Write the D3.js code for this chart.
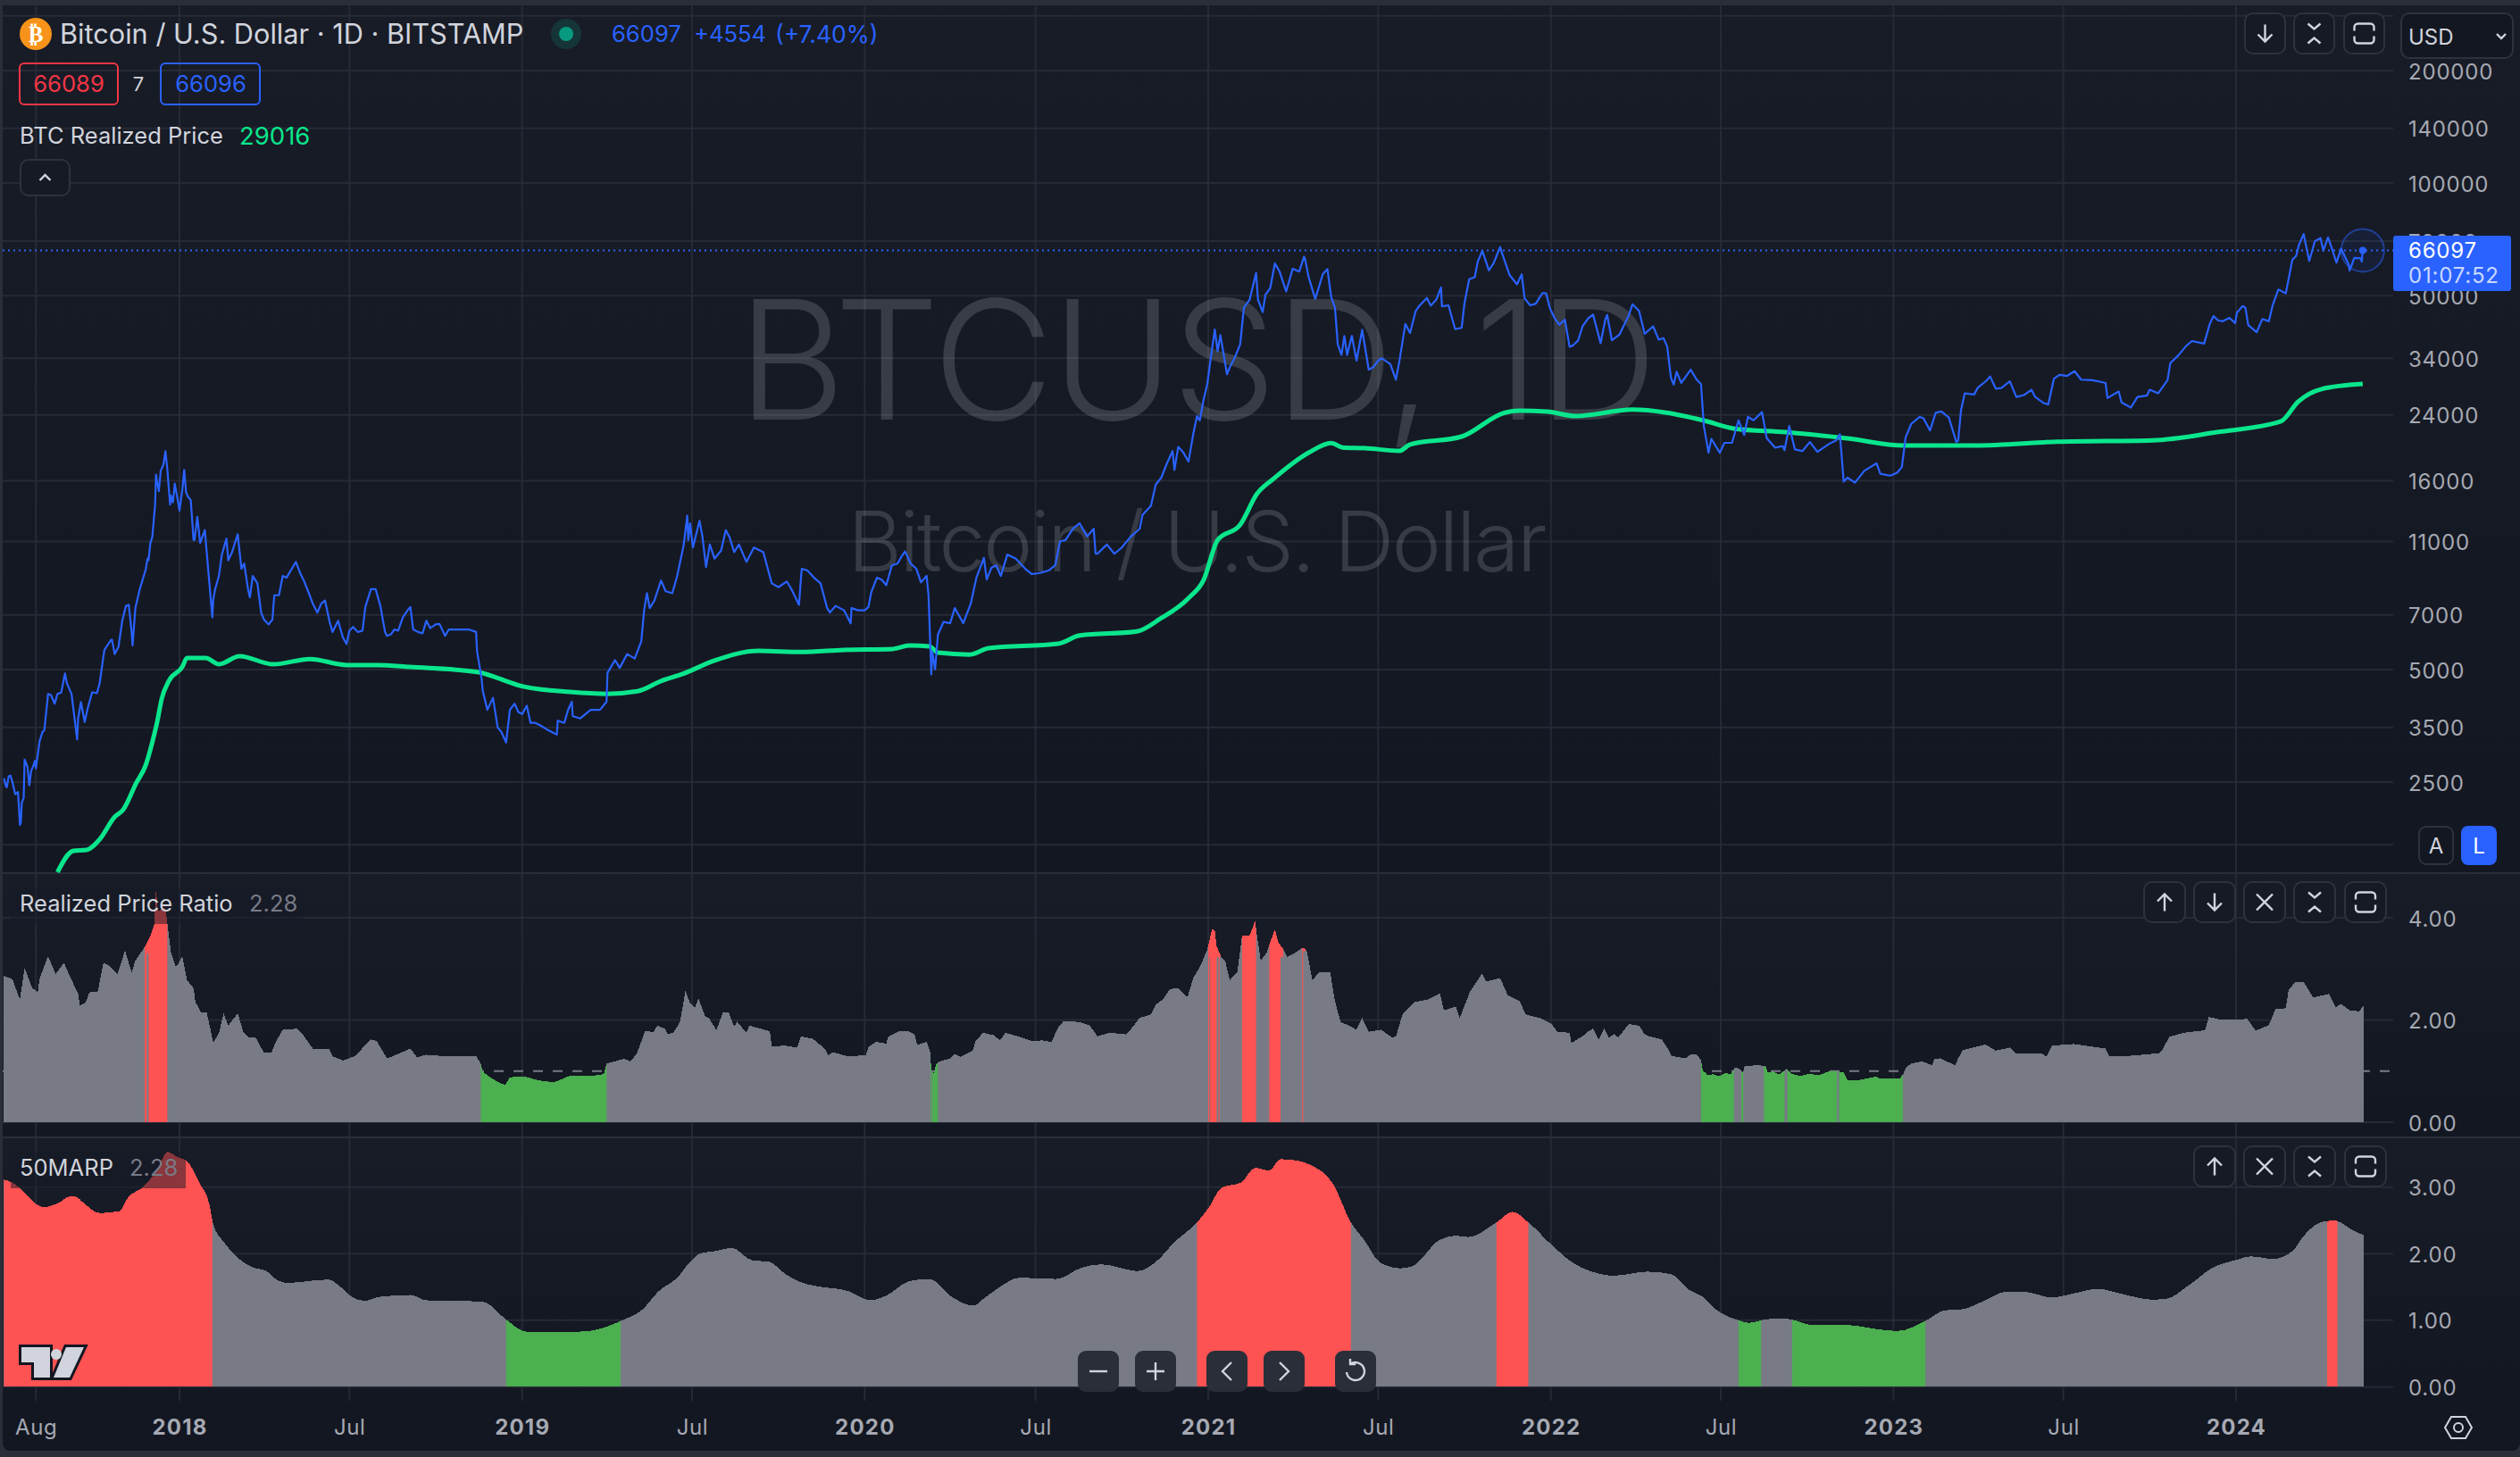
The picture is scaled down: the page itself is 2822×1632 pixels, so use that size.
<!DOCTYPE html>
<html>
<head>
<meta charset="utf-8">
<script src="https://cdn.jsdelivr.net/npm/d3@7"></script>
<style>
html, body { margin: 0; padding: 0; background: #2a2e39; }
svg { display: block; font-family: Inter, "Noto Sans", sans-serif; }
</style>
</head>
<body>
<div id="chart"></div>
<script>
// values
const priceSeries = [
["2017-06-28",2560],["2017-06-30",2440],["2017-07-01",2420],["2017-07-03",2590],["2017-07-05",2600],["2017-07-07",2500],["2017-07-10",2320],["2017-07-13",2350],["2017-07-15",1920],["2017-07-16",1950],["2017-07-17",2200],["2017-07-19",2270],["2017-07-20",2870],["2017-07-23",2750],["2017-07-25",2450],["2017-07-27",2680],["2017-07-29",2750],["2017-07-31",2850],["2017-08-01",2720],["2017-08-05",3220],["2017-08-08",3400],["2017-08-10",3440],["2017-08-14",4300],["2017-08-17",4280],["2017-08-21",4050],["2017-08-24",4300],["2017-08-28",4340],["2017-09-01",4880],["2017-09-03",4600],["2017-09-08",4300],["2017-09-14",3250],["2017-09-15",3700],["2017-09-18",4090],["2017-09-22",3620],["2017-09-25",3920],["2017-09-30",4350],["2017-10-05",4320],["2017-10-08",4600],["2017-10-12",5430],["2017-10-13",5640],["2017-10-20",6000],["2017-10-21",6010],["2017-10-24",5500],["2017-10-28",5750],["2017-11-01",6750],["2017-11-05",7400],["2017-11-08",7450],["2017-11-11",6300],["2017-11-12",5800],["2017-11-15",7300],["2017-11-20",8250],["2017-11-26",9250],["2017-11-28",9900],["2017-11-29",9800],["2017-12-01",10900],["2017-12-03",11300],["2017-12-06",13800],["2017-12-07",16600],["2017-12-08",16000],["2017-12-10",15000],["2017-12-12",17000],["2017-12-15",17700],["2017-12-17",19190],["2017-12-19",17200],["2017-12-22",13800],["2017-12-23",14600],["2017-12-25",14000],["2017-12-27",15700],["2017-12-31",13800],
["2018-01-01",13300],["2018-01-04",15100],["2018-01-06",17100],["2018-01-08",14900],["2018-01-10",14500],["2018-01-13",14200],["2018-01-16",11100],["2018-01-17",11100],["2018-01-20",12800],["2018-01-23",10900],["2018-01-28",11800],["2018-02-01",9000],["2018-02-05",6900],["2018-02-06",7700],["2018-02-08",8200],["2018-02-12",8900],["2018-02-15",10100],["2018-02-20",11200],["2018-02-22",9800],["2018-02-26",10300],["2018-03-04",11500],["2018-03-08",9300],["2018-03-11",9600],["2018-03-15",8200],["2018-03-17",7800],["2018-03-20",8900],["2018-03-25",8500],["2018-03-29",7100],["2018-04-01",6800],["2018-04-06",6600],["2018-04-10",6800],["2018-04-12",7900],["2018-04-17",7900],["2018-04-21",8900],["2018-04-25",8800],["2018-04-30",9240],["2018-05-05",9700],["2018-05-10",9000],["2018-05-13",8700],["2018-05-18",8100],["2018-05-23",7500],["2018-05-28",7100],["2018-06-01",7500],["2018-06-05",7650],["2018-06-10",6700],["2018-06-13",6300],["2018-06-19",6750],["2018-06-24",6100],["2018-06-28",5850],["2018-07-01",6350],["2018-07-05",6500],["2018-07-10",6300],["2018-07-15",6350],["2018-07-18",7350],["2018-07-24",8200],["2018-07-26",8200],["2018-07-29",8200],["2018-08-03",7400],["2018-08-08",6300],["2018-08-10",6150],["2018-08-14",6200],["2018-08-18",6400],["2018-08-22",6350],["2018-08-27",6900],["2018-09-01",7200],["2018-09-04",7350],["2018-09-07",6400],["2018-09-12",6300],["2018-09-17",6250],["2018-09-21",6750],["2018-09-25",6450],["2018-10-01",6600],["2018-10-05",6620],["2018-10-11",6150],["2018-10-15",6400],["2018-10-25",6400],["2018-11-05",6400],["2018-11-13",6300],["2018-11-14",5600],["2018-11-19",4700],["2018-11-20",4400],["2018-11-25",3900],["2018-12-01",4200],["2018-12-06",3500],["2018-12-10",3400],["2018-12-15",3190],["2018-12-19",3900],["2018-12-24",4050],["2018-12-28",3850],
["2019-01-01",3800],["2019-01-06",4000],["2019-01-10",3600],["2019-01-15",3600],["2019-01-20",3550],["2019-01-28",3450],["2019-02-07",3350],["2019-02-08",3650],["2019-02-15",3600],["2019-02-19",3900],["2019-02-23",4100],["2019-02-24",3750],["2019-03-04",3700],["2019-03-15",3900],["2019-03-25",3900],["2019-04-01",4100],["2019-04-02",4900],["2019-04-10",5300],["2019-04-15",5050],["2019-04-23",5500],["2019-05-01",5350],["2019-05-08",5950],["2019-05-11",7200],["2019-05-14",8000],["2019-05-17",7300],["2019-05-22",7650],["2019-05-29",8650],["2019-06-03",8100],["2019-06-10",8000],["2019-06-15",8850],["2019-06-22",10700],["2019-06-26",12900],["2019-06-27",11100],["2019-06-29",12300],["2019-07-02",10600],["2019-07-09",12500],["2019-07-12",11400],["2019-07-16",9400],["2019-07-20",10800],["2019-07-25",9900],["2019-08-01",10400],["2019-08-06",11800],["2019-08-10",11300],["2019-08-15",10300],["2019-08-20",10800],["2019-08-28",9700],["2019-09-05",10600],["2019-09-15",10300],["2019-09-24",8500],["2019-10-01",8300],["2019-10-10",8600],["2019-10-15",8200],["2019-10-23",7450],["2019-10-25",8700],["2019-10-26",9300],["2019-11-01",9200],["2019-11-08",8800],["2019-11-15",8500],["2019-11-22",7300],["2019-11-25",7100],["2019-12-01",7400],["2019-12-10",7200],["2019-12-17",6640],["2019-12-18",7300],["2019-12-25",7200],
["2020-01-01",7200],["2020-01-05",7350],["2020-01-08",8050],["2020-01-14",8800],["2020-01-19",8700],["2020-01-24",8400],["2020-01-30",9500],["2020-02-05",9600],["2020-02-10",10100],["2020-02-13",10350],["2020-02-19",9600],["2020-02-25",9300],["2020-03-01",8550],["2020-03-07",8900],["2020-03-09",7900],["2020-03-12",4850],["2020-03-13",5580],["2020-03-16",5000],["2020-03-19",6200],["2020-03-25",6700],["2020-04-01",6650],["2020-04-06",7300],["2020-04-15",6650],["2020-04-23",7500],["2020-04-29",8800],["2020-05-07",9950],["2020-05-10",8700],["2020-05-15",9350],["2020-05-20",9500],["2020-05-25",8900],["2020-06-01",10150],["2020-06-10",9900],["2020-06-20",9300],["2020-06-27",9000],["2020-07-05",9050],["2020-07-15",9200],["2020-07-22",9500],["2020-07-27",11000],["2020-08-02",11100],["2020-08-10",11900],["2020-08-17",12300],["2020-08-25",11350],["2020-09-01",11900],["2020-09-03",10200],["2020-09-05",10200],["2020-09-15",10800],["2020-09-23",10200],["2020-10-01",10600],["2020-10-10",11300],["2020-10-20",11900],["2020-10-23",12950],["2020-11-01",13700],["2020-11-06",15600],["2020-11-12",16300],["2020-11-18",17800],["2020-11-24",19200],["2020-11-26",17100],["2020-11-30",19700],["2020-12-05",19100],["2020-12-11",18000],["2020-12-16",21300],["2020-12-20",23800],["2020-12-23",23200],["2020-12-27",26300],["2020-12-31",29000],
["2021-01-03",33000],["2021-01-08",40600],["2021-01-11",35500],["2021-01-14",39200],["2021-01-21",30800],["2021-01-24",32200],["2021-01-29",34000],["2021-02-04",37000],["2021-02-08",46400],["2021-02-14",48700],["2021-02-21",57500],["2021-02-23",48800],["2021-02-28",45200],["2021-03-03",50300],["2021-03-08",52300],["2021-03-13",61000],["2021-03-18",58000],["2021-03-25",51300],["2021-04-01",59000],["2021-04-08",58000],["2021-04-13",63500],["2021-04-14",62900],["2021-04-18",56000],["2021-04-25",49000],["2021-05-03",57000],["2021-05-08",58900],["2021-05-12",49500],["2021-05-16",46500],["2021-05-19",37000],["2021-05-23",34700],["2021-05-26",39000],["2021-05-29",34700],["2021-06-03",39000],["2021-06-08",33500],["2021-06-14",40500],["2021-06-21",31700],["2021-06-26",32200],["2021-07-01",33500],["2021-07-05",34000],["2021-07-14",32800],["2021-07-20",29800],["2021-07-24",33800],["2021-07-30",42000],["2021-08-04",39700],["2021-08-10",45500],["2021-08-14",47000],["2021-08-22",49300],["2021-08-26",47000],["2021-09-01",48800],["2021-09-06",52600],["2021-09-07",46800],["2021-09-14",47100],["2021-09-21",40700],["2021-09-28",41000],["2021-10-01",47700],["2021-10-06",55300],["2021-10-12",56000],["2021-10-15",61500],["2021-10-20",65900],["2021-10-27",58400],["2021-11-01",61000],["2021-11-08",67500],["2021-11-10",64900],["2021-11-18",56800],["2021-11-26",53600],["2021-12-01",57000],["2021-12-04",49200],["2021-12-10",47100],["2021-12-16",47600],["2021-12-23",50800],["2021-12-27",50700],["2021-12-31",46300],
["2022-01-05",43500],["2022-01-10",41800],["2022-01-16",43100],["2022-01-21",36500],["2022-01-24",36700],["2022-01-30",37900],["2022-02-04",41500],["2022-02-10",43500],["2022-02-15",44500],["2022-02-23",37300],["2022-02-28",43100],["2022-03-02",44400],["2022-03-07",38000],["2022-03-15",39300],["2022-03-25",44300],["2022-03-29",47400],["2022-04-05",45500],["2022-04-11",39500],["2022-04-20",41400],["2022-04-26",38100],["2022-05-01",38500],["2022-05-05",36500],["2022-05-09",30100],["2022-05-12",28900],["2022-05-15",31300],["2022-05-20",29200],["2022-05-30",31700],["2022-06-05",29900],["2022-06-10",29000],["2022-06-13",22400],["2022-06-18",19000],["2022-06-21",20700],["2022-06-30",19000],["2022-07-05",20200],["2022-07-13",20200],["2022-07-20",23200],["2022-07-26",21200],["2022-07-30",23700],["2022-08-05",23200],["2022-08-14",24400],["2022-08-19",20800],["2022-08-28",19600],["2022-09-05",19800],["2022-09-07",19300],["2022-09-12",22400],["2022-09-18",19400],["2022-09-26",19200],["2022-10-04",20300],["2022-10-12",19100],["2022-10-25",20100],["2022-11-01",20500],["2022-11-05",21300],["2022-11-09",15900],["2022-11-13",16300],["2022-11-21",15800],["2022-12-01",17000],["2022-12-14",17800],["2022-12-18",16700],["2022-12-28",16500],["2022-12-31",16600],
["2023-01-05",16800],["2023-01-10",17400],["2023-01-14",20900],["2023-01-20",22700],["2023-01-29",23700],["2023-02-02",23500],["2023-02-09",21800],["2023-02-15",24300],["2023-02-21",24500],["2023-03-01",23600],["2023-03-09",20300],["2023-03-11",20500],["2023-03-14",24700],["2023-03-18",27400],["2023-03-22",27300],["2023-03-28",27200],["2023-04-01",28400],["2023-04-10",29600],["2023-04-14",30400],["2023-04-20",28200],["2023-04-26",28300],["2023-05-05",29500],["2023-05-12",26800],["2023-05-20",27100],["2023-05-28",28000],["2023-06-01",26800],["2023-06-10",25800],["2023-06-15",25600],["2023-06-21",30000],["2023-06-27",30700],["2023-07-05",30500],["2023-07-13",31400],["2023-07-20",29800],["2023-08-01",29700],["2023-08-10",29400],["2023-08-15",29200],["2023-08-17",26600],["2023-08-29",27700],["2023-09-01",25900],["2023-09-11",25100],["2023-09-18",26800],["2023-09-28",27000],["2023-10-01",28000],["2023-10-10",27400],["2023-10-20",29700],["2023-10-23",33000],["2023-10-31",34500],["2023-11-09",36700],["2023-11-15",37800],["2023-11-28",37200],["2023-12-04",42000],["2023-12-08",44100],["2023-12-13",42900],["2023-12-18",42700],["2023-12-25",43600],["2023-12-31",42200],
["2024-01-02",45000],["2024-01-08",46900],["2024-01-11",46400],["2024-01-14",41700],["2024-01-23",39900],["2024-01-29",43300],["2024-02-05",42700],["2024-02-09",47100],["2024-02-15",51900],["2024-02-23",50700],["2024-02-27",57000],["2024-03-01",62400],["2024-03-05",63800],["2024-03-08",68300],["2024-03-13",73100],["2024-03-19",61900],["2024-03-25",69900],["2024-03-31",71300],["2024-04-03",65900],["2024-04-08",71600],["2024-04-12",67000],["2024-04-17",61300],["2024-04-22",66800],["2024-04-30",60600],["2024-05-01",58300],["2024-05-06",63100],["2024-05-13",62900],["2024-05-14",61600],["2024-05-15",66097]
];

const realizedSeries = [
["2017-08-24",1435],["2017-09-10",1637],["2017-09-24",1647],["2017-10-08",1758],["2017-10-24",2018],["2017-11-02",2108],["2017-11-16",2487],["2017-11-26",2773],["2017-12-05",3342],["2017-12-08",3597],["2017-12-13",4169],["2017-12-21",4677],["2018-01-04",5079],["2018-01-09",5370],["2018-01-29",5370],["2018-02-12",5164],["2018-03-06",5430],["2018-04-11",5164],["2018-05-20",5334],["2018-06-28",5140],["2018-07-31",5140],["2018-09-03",5079],["2018-11-16",4918],["2018-12-05",4753],["2019-01-03",4498],["2019-02-21",4355],["2019-04-01",4305],["2019-05-04",4375],["2019-05-29",4656],["2019-06-21",4864],["2019-07-25",5284],["2019-09-10",5610],["2019-10-25",5570],["2019-12-10",5640],
["2020-01-31",5675],["2020-02-18",5797],["2020-03-10",5768],["2020-03-19",5546],["2020-04-22",5483],["2020-05-12",5702],["2020-07-25",5861],["2020-08-17",6166],["2020-10-17",6324],["2020-11-11",6839],["2020-12-11",7762],["2020-12-27",8670],["2021-01-11",11093],["2021-02-04",12190],["2021-02-22",14760],["2021-03-12",16218],["2021-04-18",19011],["2021-05-12",20184],["2021-05-24",19634],["2021-06-17",19540],["2021-07-24",19231],["2021-08-04",20000],["2021-09-28",20990],["2021-11-13",24322],["2021-11-28",24604],["2021-12-28",24490],["2022-01-27",23823],["2022-03-29",24774],["2022-05-04",24322],["2022-06-13",23174],["2022-07-16",22029],["2022-09-08",21577],["2022-11-13",20750],["2023-01-12",19860],["2023-03-30",19860],["2023-06-24",20324],["2023-10-04",20512],["2023-12-12",21577],["2024-02-18",23070],["2024-03-07",26000],["2024-04-01",28120],["2024-05-15",29016]
];

const ratioSeries = [
["2017-06-28",2.86],["2017-07-07",2.80],["2017-07-15",2.40],["2017-07-20",3.02],["2017-07-28",2.63],["2017-08-03",2.54],["2017-08-05",2.81],["2017-08-14",3.25],["2017-08-22",2.90],["2017-08-31",3.12],["2017-09-06",2.86],["2017-09-15",2.52],["2017-09-17",2.28],["2017-09-23",2.34],["2017-09-27",2.54],["2017-10-06",2.56],["2017-10-12",3.12],["2017-10-19",3.05],["2017-10-27",2.90],["2017-11-04",3.36],["2017-11-11",2.93],["2017-11-15",3.16],["2017-11-24",3.40],["2017-12-01",3.65],["2017-12-05",3.87],["2017-12-07",4.58],["2017-12-09",4.13],["2017-12-13",4.17],["2017-12-17",4.20],["2017-12-21",3.60],["2017-12-23",3.31],["2017-12-28",3.05],["2017-12-31",3.10],["2018-01-04",3.25],["2018-01-09",2.78],["2018-01-16",2.62],["2018-01-18",2.35],["2018-01-24",2.15],["2018-01-30",2.15],["2018-02-06",1.56],["2018-02-12",1.74],["2018-02-17",2.13],["2018-02-22",1.89],["2018-03-04",2.13],["2018-03-10",1.77],["2018-03-16",1.66],["2018-03-23",1.66],["2018-04-01",1.36],["2018-04-09",1.36],["2018-04-13",1.55],["2018-04-21",1.81],["2018-05-06",1.83],["2018-05-13",1.70],["2018-05-23",1.44],["2018-06-09",1.44],["2018-06-13",1.29],["2018-06-24",1.21],["2018-07-07",1.29],["2018-07-15",1.45],["2018-07-24",1.62],["2018-07-30",1.59],["2018-08-10",1.25],["2018-08-16",1.29],["2018-09-04",1.44],["2018-09-11",1.27],["2018-09-21",1.32],["2018-10-12",1.29],["2018-11-13",1.30],["2018-11-18",1.14],["2018-11-20",0.99],["2018-11-28",0.88],["2018-12-07",0.78],["2018-12-14",0.73],["2018-12-19",0.88],["2019-01-05",0.89],["2019-01-18",0.82],["2019-02-04",0.78],["2019-02-21",0.91],["2019-03-14",0.90],["2019-03-29",0.94],
["2019-04-01",1.15],["2019-04-20",1.24],["2019-04-26",1.19],["2019-05-03",1.33],["2019-05-09",1.63],["2019-05-12",1.79],["2019-05-21",1.76],["2019-05-25",1.89],["2019-06-02",1.83],["2019-06-05",1.72],["2019-06-11",1.75],["2019-06-18",1.95],["2019-06-21",2.24],["2019-06-24",2.57],["2019-06-29",2.33],["2019-07-04",2.24],["2019-07-08",2.42],["2019-07-15",2.07],["2019-07-19",2.04],["2019-07-27",1.80],["2019-08-03",2.15],["2019-08-09",2.15],["2019-08-15",1.87],["2019-08-18",1.97],["2019-08-28",1.75],["2019-08-31",1.89],["2019-09-22",1.78],["2019-09-24",1.48],["2019-10-08",1.50],["2019-10-21",1.46],["2019-10-25",1.68],["2019-11-07",1.63],["2019-11-20",1.43],["2019-11-23",1.31],["2019-11-28",1.37],["2019-12-14",1.29],["2020-01-02",1.31],["2020-01-05",1.47],["2020-01-13",1.57],["2020-01-24",1.54],["2020-01-26",1.67],["2020-02-07",1.78],["2020-02-15",1.79],["2020-02-23",1.72],["2020-02-26",1.51],["2020-03-07",1.57],["2020-03-11",1.37],["2020-03-12",1.00],["2020-03-15",0.96],["2020-03-17",1.14],["2020-03-21",1.19],["2020-03-31",1.24],["2020-04-06",1.33],["2020-04-12",1.28],["2020-04-25",1.40],["2020-04-28",1.58],["2020-05-06",1.75],["2020-05-18",1.70],["2020-05-24",1.60],["2020-05-30",1.75],["2020-06-12",1.68],["2020-06-27",1.59],["2020-07-08",1.60],["2020-07-18",1.57],["2020-07-25",1.85],["2020-07-31",1.98],["2020-08-17",1.96],["2020-08-28",1.89],["2020-09-05",1.68],["2020-09-18",1.75],["2020-10-05",1.72],["2020-10-11",1.83],["2020-10-20",2.04],["2020-11-01",2.11],["2020-11-06",2.30],["2020-11-14",2.41],["2020-11-21",2.60],["2020-11-29",2.63],["2020-12-10",2.45],["2020-12-16",2.82],["2020-12-24",3.07],["2020-12-31",3.38],["2021-01-05",3.77],["2021-01-08",3.76],["2021-01-10",3.44],["2021-01-15",3.23],["2021-01-19",3.16],["2021-01-24",2.78],["2021-02-01",2.93],["2021-02-06",3.65],["2021-02-14",3.65],["2021-02-20",3.94],["2021-02-22",3.65],["2021-02-26",3.16],["2021-03-04",3.31],["2021-03-09",3.57],["2021-03-13",3.77],["2021-03-17",3.50],["2021-03-21",3.42],["2021-03-26",3.23],["2021-04-03",3.31],["2021-04-12",3.42],["2021-04-16",3.35],["2021-04-22",2.78],["2021-04-29",2.93],["2021-05-11",2.93],["2021-05-16",2.37],["2021-05-22",1.96],["2021-05-31",1.89],["2021-06-08",1.81],["2021-06-14",2.04],["2021-06-21",1.77],["2021-07-04",1.81],["2021-07-16",1.66],["2021-07-20",1.68],["2021-07-27",2.11],["2021-08-09",2.35],["2021-08-23",2.40],["2021-09-05",2.52],["2021-09-09",2.19],["2021-09-22",2.26],["2021-09-26",2.04],["2021-10-07",2.56],["2021-10-20",2.91],["2021-10-24",2.75],["2021-11-08",2.82],["2021-11-16",2.49],["2021-11-29",2.37],["2021-12-05",2.11],["2021-12-20",2.04],["2022-01-02",1.92],["2022-01-08",1.77],["2022-01-21",1.75],["2022-01-23",1.55],["2022-02-05",1.70],
["2022-02-10",1.78],["2022-02-15",1.83],["2022-02-21",1.62],["2022-02-27",1.83],["2022-03-04",1.64],["2022-03-09",1.73],["2022-03-14",1.66],["2022-03-25",1.92],["2022-04-05",1.89],["2022-04-11",1.72],["2022-04-16",1.68],["2022-04-29",1.62],["2022-05-05",1.46],["2022-05-10",1.29],["2022-05-15",1.28],["2022-05-25",1.25],["2022-05-30",1.33],["2022-06-05",1.33],["2022-06-10",1.22],["2022-06-12",1.00],["2022-06-14",0.98],["2022-06-17",0.92],["2022-06-23",0.94],["2022-06-29",0.90],["2022-07-06",0.96],["2022-07-12",0.94],["2022-07-16",1.07],["2022-07-21",1.05],["2022-07-25",0.96],["2022-07-26",1.09],["2022-08-10",1.12],["2022-08-18",1.09],["2022-08-20",0.98],["2022-08-26",0.99],["2022-09-01",0.93],["2022-09-09",1.04],["2022-09-14",0.95],["2022-09-24",0.90],["2022-10-03",0.95],["2022-10-13",0.92],["2022-10-24",0.99],["2022-11-03",0.99],["2022-11-09",0.98],["2022-11-13",0.82],["2022-11-24",0.82],["2022-12-13",0.89],["2022-12-19",0.85],["2023-01-08",0.86],["2023-01-12",0.96],["2023-01-14",1.06],["2023-01-20",1.15],["2023-01-31",1.19],["2023-02-11",1.12],["2023-02-14",1.24],["2023-02-20",1.25],["2023-03-08",1.11],["2023-03-11",1.25],["2023-03-16",1.41],
["2023-04-09",1.52],["2023-04-20",1.40],["2023-05-05",1.46],["2023-05-11",1.35],["2023-06-08",1.34],["2023-06-13",1.29],["2023-06-19",1.50],["2023-07-12",1.53],["2023-08-15",1.44],["2023-08-19",1.29],["2023-09-10",1.30],["2023-09-29",1.33],["2023-10-11",1.35],["2023-10-14",1.40],["2023-10-22",1.67],["2023-11-06",1.75],["2023-11-29",1.80],["2023-12-03",2.06],["2023-12-17",2.00],["2024-01-02",2.01],["2024-01-13",2.02],["2024-01-22",1.79],["2024-02-05",1.90],["2024-02-12",2.21],["2024-02-23",2.23],["2024-02-26",2.58],["2024-03-04",2.74],["2024-03-13",2.75],["2024-03-23",2.44],["2024-04-09",2.51],["2024-04-16",2.25],["2024-04-22",2.31],["2024-05-01",2.19],["2024-05-11",2.17],["2024-05-16",2.28]
];

const marpSeries = [
["2017-06-28",3.11],["2017-07-07",3.07],["2017-07-19",2.93],["2017-08-03",2.73],["2017-08-09",2.70],["2017-08-26",2.77],["2017-09-06",2.86],["2017-09-12",2.86],["2017-09-21",2.76],["2017-10-08",2.61],["2017-10-29",2.64],["2017-11-07",2.84],["2017-11-24",3.01],["2017-12-09",3.28],["2017-12-19",3.53],["2017-12-30",3.45],["2018-01-09",3.39],["2018-01-22",3.07],["2018-02-02",2.73],["2018-02-06",2.44],["2018-02-17",2.18],["2018-03-01",1.98],["2018-03-23",1.78],["2018-04-02",1.75],["2018-04-17",1.59],["2018-04-28",1.56],["2018-05-25",1.60],["2018-06-09",1.61],["2018-06-20",1.52],["2018-07-03",1.36],["2018-07-17",1.29],["2018-08-01",1.35],["2018-09-04",1.38],["2018-09-21",1.30],["2018-10-25",1.29],["2018-11-20",1.28],["2018-12-15",1.01],["2019-01-05",0.83],["2019-02-13",0.82],["2019-03-14",0.84],["2019-04-16",0.99],["2019-05-09",1.16],["2019-05-26",1.43],["2019-06-16",1.65],["2019-06-29",1.88],["2019-07-11",2.01],["2019-07-27",2.04],["2019-08-12",2.09],["2019-09-03",1.90],["2019-09-21",1.88],["2019-10-08",1.70],["2019-10-27",1.56],["2019-11-12",1.51],["2019-12-14",1.44],["2020-01-07",1.30],["2020-01-24",1.37],["2020-02-18",1.59],["2020-03-10",1.62],["2020-04-03",1.35],["2020-04-26",1.22],["2020-05-08",1.34],["2020-05-22",1.48],["2020-06-14",1.64],["2020-07-23",1.62],["2020-08-19",1.79],["2020-09-09",1.84],["2020-10-18",1.74],["2020-11-08",1.90],["2020-11-25",2.16],["2020-12-20",2.47],["2021-01-02",2.70],["2021-01-15",2.99],["2021-02-05",3.07],["2021-02-20",3.29],["2021-03-07",3.25],["2021-03-19",3.42],["2021-04-05",3.40],["2021-04-22",3.32],["2021-05-14",3.05],["2021-06-02",2.47],["2021-06-16",2.21],["2021-07-03",1.87],["2021-07-25",1.78],["2021-08-06",1.81],["2021-09-05",2.21],["2021-09-22",2.27],["2021-10-05",2.25],["2021-11-04",2.47],["2021-11-21",2.63],["2021-12-08",2.47],["2022-01-02",2.13],["2022-01-27",1.84],["2022-02-10",1.75],["2022-03-09",1.67],["2022-04-14",1.73],["2022-05-10",1.69],["2022-05-27",1.47],["2022-06-12",1.35],["2022-06-26",1.16],["2022-07-20",1.00],["2022-07-31",0.96],["2022-08-13",1.00],["2022-09-01",1.03],["2022-09-15",1.01],["2022-10-06",0.93],["2022-11-10",0.93],["2022-12-24",0.85],["2023-01-06",0.84],["2023-02-04",0.99],["2023-02-25",1.15],["2023-03-13",1.16],["2023-04-09",1.30],["2023-05-01",1.43],["2023-05-24",1.42],["2023-06-19",1.34],["2023-07-08",1.39],["2023-08-07",1.47],["2023-09-03",1.39],["2023-10-03",1.31],["2023-10-18",1.32],["2023-11-13",1.54],["2023-12-06",1.78],["2024-01-02",1.91],["2024-01-17",1.96],["2024-02-09",1.92],["2024-03-01",2.04],["2024-03-14",2.28],["2024-03-29",2.46],["2024-04-07",2.49],["2024-04-15",2.50],["2024-04-18",2.49],["2024-05-06",2.34],["2024-05-16",2.28]
];

// coloured stretches: [from, to, floor value (only the part above it is coloured)]
const ratioRedSpans = [["2017-11-25","2017-11-27",0],["2017-11-29","2017-12-19",0],["2017-11-25","2017-11-29",3.3],["2021-01-01","2021-01-02",0],["2021-01-03","2021-01-10",0],["2021-01-12","2021-01-13",0],["2021-01-01","2021-01-16",3.23],["2021-02-06","2021-02-21",0],["2021-03-07","2021-03-19",0],["2021-03-07","2021-03-22",3.23],["2021-04-11","2021-04-12",0],["2021-04-11","2021-04-15",3.35]];
const ratioGreenSpans = [["2018-11-18","2019-04-01",0],["2020-03-11","2020-03-12",0],["2020-03-13","2020-03-19",0],["2022-06-10","2022-07-15",0],["2022-07-23","2022-07-25",0],["2022-08-16","2022-09-07",0],["2022-09-10","2022-11-02",0],["2022-11-04","2023-01-11",0]];
const marpRedSpans = [["2017-06-28","2018-02-05",0],["2020-12-20","2021-06-02",0],["2021-11-04","2021-12-08",0],["2024-04-07","2024-04-18",0]];
const marpGreenSpans = [["2018-12-15","2019-04-16",0],["2022-07-20","2022-08-13",0],["2022-09-15","2023-02-04",0]];

const priceTicks = [200000,140000,100000,70000,50000,34000,24000,16000,11000,7000,5000,3500,2500];
const priceGridOnly = [280000,1700];
const ratioTicks = [4,2,0];
const marpTicks = [3,2,1,0];
const timeDates = ["2017-08-01","2018-01-01","2018-07-01","2019-01-01","2019-07-01","2020-01-01","2020-07-01","2021-01-01","2021-07-01","2022-01-01","2022-07-01","2023-01-01","2023-07-01","2024-01-01"];
const timeLabels = ["Aug","2018","Jul","2019","Jul","2020","Jul","2021","Jul","2022","Jul","2023","Jul","2024"];

const W = 2822, H = 1632, plotR = 2680;
const parse = d3.utcParse("%Y-%m-%d");
const GRID = "#2a2e39", GREY = "#787b86", RED = "#ff5252", GREEN = "#4caf50", BLUE = "#2962ff", MINT = "#0ae68c", TXT = "#d1d4dc", AXT = "#a6a9b2";

const x = d3.scaleUtc().domain([parse("2018-01-01"), parse("2024-01-01")]).range([201, 2504]);
const yPrice = d3.scaleLog().domain([200000, 2500]).range([79, 876]);
const yRatio = d3.scaleLinear().domain([0, 4]).range([1257, 1028]);
const yMarp = d3.scaleLinear().domain([0, 3]).range([1553.4, 1329.7]);

const svg = d3.select("#chart").append("svg").attr("width", W).attr("height", H);
const defs = svg.append("defs");
const grad = defs.append("linearGradient").attr("id", "paneBg").attr("x1", 0).attr("x2", 0).attr("y1", 0).attr("y2", 1);
grad.append("stop").attr("offset", 0).attr("stop-color", "#181c27");
grad.append("stop").attr("offset", 1).attr("stop-color", "#131722");

const panes = [
  { id: "main", top: 6, bottom: 978 },
  { id: "ratio", top: 979, bottom: 1274 },
  { id: "marp", top: 1275, bottom: 1570 }
];

svg.append("rect").attr("width", W).attr("height", H).attr("fill", "#2a2e39");
svg.append("rect").attr("x", 3).attr("y", 6).attr("width", W - 3).attr("height", 1620).attr("rx", 10).attr("fill", "#131722");

panes.forEach(p => {
  svg.append("rect").attr("x", 3).attr("y", p.top).attr("width", W - 3).attr("height", p.bottom - p.top).attr("fill", "url(#paneBg)");
  defs.append("clipPath").attr("id", "clip-" + p.id).append("rect").attr("x", 3).attr("y", p.top).attr("width", plotR - 3).attr("height", p.bottom - p.top);
});
svg.append("line").attr("x1", 3).attr("x2", W).attr("y1", 978).attr("y2", 978).attr("stroke", GRID).attr("stroke-width", 2);
svg.append("line").attr("x1", 3).attr("x2", W).attr("y1", 1274).attr("y2", 1274).attr("stroke", GRID).attr("stroke-width", 2);
svg.append("line").attr("x1", 3).attr("x2", W).attr("y1", 1626).attr("y2", 1626).attr("stroke", GRID).attr("stroke-width", 2);

// grid
const grid = svg.append("g").attr("stroke", GRID).attr("stroke-width", 2).attr("stroke-opacity", 0.8);
grid.selectAll(".v").data(timeDates).join("line").attr("class", "v")
  .attr("x1", d => x(parse(d))).attr("x2", d => x(parse(d))).attr("y1", 6).attr("y2", 1569);
grid.selectAll(".hp").data(priceTicks.concat(priceGridOnly)).join("line").attr("class", "hp")
  .attr("x1", 3).attr("x2", plotR).attr("y1", d => yPrice(d)).attr("y2", d => yPrice(d));
grid.selectAll(".hr").data(ratioTicks).join("line").attr("class", "hr")
  .attr("x1", 3).attr("x2", plotR).attr("y1", d => yRatio(d)).attr("y2", d => yRatio(d));
grid.selectAll(".hm").data(marpTicks).join("line").attr("class", "hm")
  .attr("x1", 3).attr("x2", plotR).attr("y1", d => yMarp(d)).attr("y2", d => yMarp(d));

// watermark
svg.append("text").attr("x", 1341).attr("y", 470).attr("text-anchor", "middle").attr("font-size", 186).attr("font-weight", 300).attr("fill", "#fff").attr("fill-opacity", 0.15).attr("textLength", 1030).text("BTCUSD, 1D");
svg.append("text").attr("x", 1341).attr("y", 640).attr("text-anchor", "middle").attr("font-size", 93).attr("font-weight", 300).attr("fill", "#fff").attr("fill-opacity", 0.15).attr("textLength", 783).text("Bitcoin / U.S. Dollar");

// main pane lines
const mainG = svg.append("g").attr("clip-path", "url(#clip-main)");
const lineP = d3.line().x(d => x(parse(d[0]))).y(d => yPrice(d[1]));
const lineSmooth = d3.line().curve(d3.curveMonotoneX).x(d => x(parse(d[0]))).y(d => yPrice(d[1]));
mainG.append("path").datum(realizedSeries).attr("d", lineSmooth).attr("fill", "none").attr("stroke", MINT).attr("stroke-width", 5).attr("stroke-linejoin", "round");
mainG.append("path").datum(priceSeries).attr("d", lineP).attr("fill", "none").attr("stroke", BLUE).attr("stroke-width", 2.2).attr("stroke-linejoin", "round");

const lastPrice = priceSeries[priceSeries.length - 1];
const lastX = x(parse(lastPrice[0])), lastY = yPrice(lastPrice[1]);
svg.append("line").attr("x1", 3).attr("x2", plotR).attr("y1", lastY).attr("y2", lastY).attr("stroke", BLUE).attr("stroke-width", 2).attr("stroke-dasharray", "2 4");
svg.append("circle").attr("cx", lastX).attr("cy", lastY).attr("r", 24).attr("fill", BLUE).attr("fill-opacity", 0.08).attr("stroke", BLUE).attr("stroke-opacity", 0.5).attr("stroke-width", 2);
svg.append("circle").attr("cx", lastX).attr("cy", lastY).attr("r", 4).attr("fill", BLUE);

// dashed 1.00 line in the ratio pane, behind the area
svg.append("line").attr("x1", 3).attr("x2", 2676).attr("y1", yRatio(1)).attr("y2", yRatio(1)).attr("stroke", GREY).attr("stroke-width", 2).attr("stroke-dasharray", "11 11");

function drawArea(id, series, y, redSpans, greenSpans, curve) {
  const area = d3.area().curve(curve).x(d => x(parse(d[0]))).y0(y(0)).y1(d => y(d[1]));
  const g = svg.append("g").attr("clip-path", "url(#clip-" + id + ")");
  g.append("path").datum(series).attr("d", area).attr("fill", GREY).attr("shape-rendering", "crispEdges");
  [[redSpans, RED, "r"], [greenSpans, GREEN, "g"]].forEach(([spans, colour, tag]) => {
    const clipId = "span-" + id + "-" + tag;
    defs.append("clipPath").attr("id", clipId).selectAll("rect").data(spans).join("rect")
      .attr("x", d => x(parse(d[0])))
      .attr("width", d => x(parse(d[1])) - x(parse(d[0])))
      .attr("y", 0)
      .attr("height", d => y(d[2]));
    g.append("path").datum(series).attr("d", area).attr("fill", colour).attr("shape-rendering", "crispEdges").attr("clip-path", "url(#" + clipId + ")");
  });
}
drawArea("ratio", ratioSeries, yRatio, ratioRedSpans, ratioGreenSpans, d3.curveLinear);
drawArea("marp", marpSeries, yMarp, marpRedSpans, marpGreenSpans, d3.curveMonotoneX);

// axes
function styleAxis(g) {
  g.select(".domain").remove();
  g.selectAll("text").attr("fill", AXT).attr("font-size", 24).attr("font-family", "Inter").attr("letter-spacing", 0.8).attr("dy", "0.38em");
}
svg.append("g").attr("transform", `translate(${plotR},0)`)
  .call(d3.axisRight(yPrice).tickValues(priceTicks).tickSize(0).tickPadding(17).tickFormat(d3.format("d"))).call(styleAxis);
svg.append("g").attr("transform", `translate(${plotR},0)`)
  .call(d3.axisRight(yRatio).tickValues(ratioTicks).tickSize(0).tickPadding(17).tickFormat(d3.format(".2f"))).call(styleAxis);
svg.append("g").attr("transform", `translate(${plotR},0)`)
  .call(d3.axisRight(yMarp).tickValues(marpTicks).tickSize(0).tickPadding(17).tickFormat(d3.format(".2f"))).call(styleAxis);
const timeAxis = svg.append("g").attr("transform", "translate(0,1570)")
  .call(d3.axisBottom(x).tickValues(timeDates.map(parse)).tickSize(0).tickPadding(0).tickFormat((d, i) => timeLabels[i])).call(styleAxis);
timeAxis.selectAll("text").attr("y", 37).attr("dy", 0)
  .attr("font-weight", (d, i) => /^\d/.test(timeLabels[i]) ? 700 : 400)
  .attr("letter-spacing", (d, i) => /^\d/.test(timeLabels[i]) ? 1.2 : 0.6);

// price label
svg.append("rect").attr("x", plotR).attr("y", 264).attr("width", 132).attr("height", 62).attr("rx", 3).attr("fill", BLUE);
svg.append("text").attr("x", 2697).attr("y", 289).attr("font-size", 24).attr("letter-spacing", 0.8).attr("fill", "#fff").text("66097");
svg.append("text").attr("x", 2697).attr("y", 317).attr("font-size", 24).attr("letter-spacing", 0.8).attr("fill", "#fff").attr("fill-opacity", 0.75).text("01:07:52");

// legends
function label(x0, y0, str, colour, size) {
  return svg.append("text").attr("x", x0).attr("y", y0).attr("dy", "0.36em").attr("font-size", size || 27).attr("fill", colour).text(str);
}
svg.append("circle").attr("cx", 40).attr("cy", 38).attr("r", 18).attr("fill", "#f7931a");
svg.append("text").attr("x", 40).attr("y", 38).attr("dy", "0.36em").attr("text-anchor", "middle").attr("font-size", 25).attr("font-weight", 700).attr("font-family", "DejaVu Sans").attr("fill", "#fff").text("₿");
label(67, 38, "Bitcoin / U.S. Dollar · 1D · BITSTAMP", TXT, 30.7);
svg.append("circle").attr("cx", 634).attr("cy", 38).attr("r", 17).attr("fill", "#089981").attr("fill-opacity", 0.2);
svg.append("circle").attr("cx", 634).attr("cy", 38).attr("r", 8).attr("fill", "#089981");
label(685, 38, "66097", BLUE, 25.6);
label(777, 38, "+4554", BLUE, 25.6);
label(868, 38, "(+7.40%)", BLUE, 26.5);
svg.append("rect").attr("x", 22).attr("y", 71).attr("width", 110).attr("height", 46).attr("rx", 5).attr("fill", "none").attr("stroke", "#f23645").attr("stroke-width", 2);
label(77, 94, "66089", "#f23645", 25.6).attr("text-anchor", "middle");
label(155, 94, "7", TXT, 22).attr("text-anchor", "middle");
svg.append("rect").attr("x", 180).attr("y", 71).attr("width", 111).attr("height", 46).attr("rx", 5).attr("fill", "none").attr("stroke", BLUE).attr("stroke-width", 2);
label(236, 94, "66096", BLUE, 25.6).attr("text-anchor", "middle");
label(22, 152, "BTC Realized Price", TXT, 25.5);
label(268, 152, "29016", MINT, 27.5);

svg.append("rect").attr("x", 12).attr("y", 994).attr("width", 328).attr("height", 41).attr("fill", "#161a25").attr("fill-opacity", 0.5);
label(22, 1012, "Realized Price Ratio", TXT, 25.5);
label(279, 1012, "2.28", GREY, 25.5);
svg.append("rect").attr("x", 12).attr("y", 1290).attr("width", 196).attr("height", 41).attr("fill", "#161a25").attr("fill-opacity", 0.5);
label(22, 1308, "50MARP", TXT, 25.5);
label(145, 1308, "2.28", GREY, 25.5);

// buttons
const ICONS = {
  down: "M0,-10V9M-8,1L0,9L8,1",
  up: "M0,10V-9M-8,-1L0,-9L8,-1",
  collapse: "M-7,-11L0,-5L7,-11M-7,11L0,5L7,11",
  max: "M-11,-3V-7a4,4 0 0 1 4,-4H7a4,4 0 0 1 4,4V-3M-11,3V7a4,4 0 0 0 4,4H7a4,4 0 0 0 4,-4V3",
  cross: "M-9,-9L9,9M9,-9L-9,9",
  chevUp: "M-6,3L0,-3L6,3",
  minus: "M-10,0H10",
  plus: "M-10,0H10M0,-10V10",
  left: "M5,-10L-5,0L5,10",
  right: "M-5,-10L5,0L-5,10",
  reset: "M-6,-8A10,10 0 1 1 -10,1M-6,-14V-8H0"
};
function button(x0, y0, w, h, icon, fill) {
  const g = svg.append("g").attr("transform", `translate(${x0},${y0})`);
  g.append("rect").attr("x", 1).attr("y", 1).attr("width", w - 2).attr("height", h - 2).attr("rx", 9)
    .attr("fill", fill || "#161a25").attr("stroke", fill ? "none" : "#2e323d").attr("stroke-width", 2);
  g.append("path").attr("transform", `translate(${w / 2},${h / 2})`).attr("d", ICONS[icon]).attr("fill", "none").attr("stroke", TXT).attr("stroke-width", 2.4);
}
button(2513, 14, 47, 47, "down");
button(2568, 14, 47, 47, "collapse");
button(2624, 14, 47, 47, "max");
button(22, 178, 57, 42, "chevUp");
button(2400, 987, 48, 47, "up");
button(2456, 987, 48, 47, "down");
button(2512, 987, 48, 47, "cross");
button(2568, 987, 48, 47, "collapse");
button(2625, 987, 48, 47, "max");
button(2456, 1283, 48, 47, "up");
button(2512, 1283, 48, 47, "cross");
button(2568, 1283, 48, 47, "collapse");
button(2625, 1283, 48, 47, "max");
button(1206, 1512, 48, 48, "minus", "#2a2e39");
button(1270, 1512, 48, 48, "plus", "#2a2e39");
button(1350, 1512, 48, 48, "left", "#2a2e39");
button(1414, 1512, 48, 48, "right", "#2a2e39");
button(1494, 1512, 48, 48, "reset", "#2a2e39");

// USD select
svg.append("rect").attr("x", 2689).attr("y", 15).attr("width", 125).attr("height", 50).attr("rx", 9).attr("fill", "#131722").attr("stroke", "#2e323d").attr("stroke-width", 2);
label(2697, 41, "USD", TXT, 24);
svg.append("path").attr("d", "M2796,38l5,5l5,-5").attr("fill", "none").attr("stroke", TXT).attr("stroke-width", 2.4);

// A / L
svg.append("rect").attr("x", 2709).attr("y", 926).attr("width", 38).attr("height", 42).attr("rx", 8).attr("fill", "#131722").attr("stroke", "#2e323d").attr("stroke-width", 2);
label(2728, 947, "A", TXT, 24).attr("text-anchor", "middle");
svg.append("rect").attr("x", 2756).attr("y", 925).attr("width", 40).attr("height", 44).attr("rx", 8).attr("fill", BLUE);
label(2776, 947, "L", "#fff", 24).attr("text-anchor", "middle");

// settings hexagon
svg.append("path").attr("d", "M2738,1599l7,-12h16l7,12l-7,12h-16z").attr("fill", "none").attr("stroke", TXT).attr("stroke-width", 2);
svg.append("circle").attr("cx", 2753).attr("cy", 1599).attr("r", 5).attr("fill", "none").attr("stroke", TXT).attr("stroke-width", 2);

// logo
const logo = svg.append("g").attr("transform", "translate(24,1508)");
logo.append("path").attr("d", "M0,1H32V35H14V18H0Z").attr("fill", "#d1d4dc").attr("stroke", "#131722").attr("stroke-width", 6).attr("paint-order", "stroke");
logo.append("path").attr("d", "M50,1H70L54,35H36Z").attr("fill", "#d1d4dc").attr("stroke", "#131722").attr("stroke-width", 6).attr("paint-order", "stroke");
logo.append("circle").attr("cx", 39).attr("cy", 9).attr("r", 6).attr("fill", "#d1d4dc");
</script>
</body>
</html>
